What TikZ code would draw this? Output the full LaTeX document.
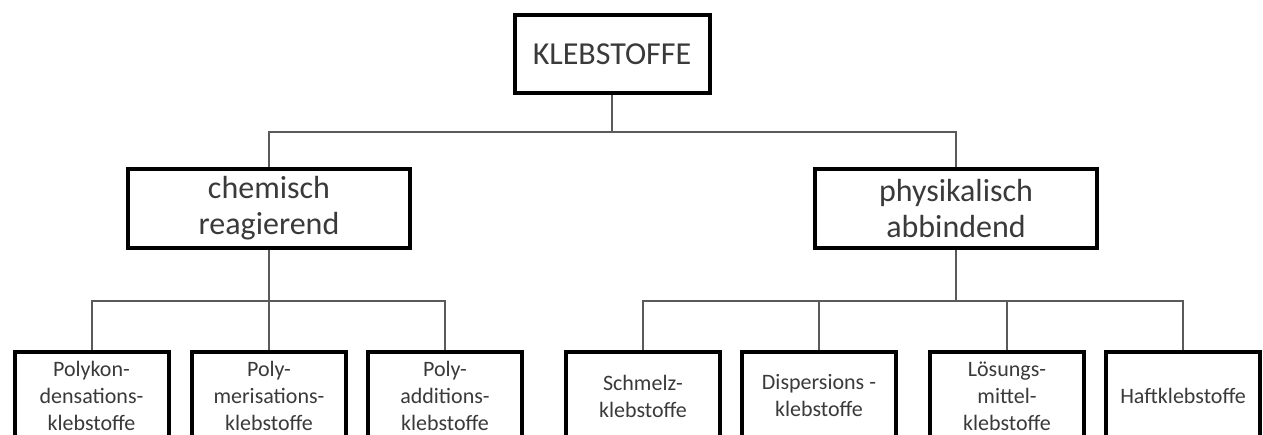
\documentclass[tikz,border=0pt]{standalone}
\usepackage{fontspec}
\setmainfont{Carlito}
\usepackage{xcolor}
\usepackage{tikz}
\usetikzlibrary{positioning, calc}

\definecolor{linkgray}{HTML}{5A5A5A}
\definecolor{textgray}{HTML}{3A3A3A}

\tikzset{
  box/.style={draw=black, line width=4pt, fill=white, text=textgray, align=center, inner sep=0pt},
  rootbox/.style={box, minimum width=195, minimum height=78, font=\fontsize{32}{36}\selectfont},
  groupbox/.style={box, minimum width=282, minimum height=79, font=\fontsize{32}{36}\selectfont},
  leafbox/.style={box, minimum width=154, minimum height=88, font=\fontsize{22}{27}\selectfont},
  link/.style={draw=linkgray, line width=2pt}
}

\begin{document}
\begin{tikzpicture}[x=1pt, y=-1pt]
      \useasboundingbox (0,0) rectangle (1263,434);

      % Root and the two groups
      \node[rootbox] (root) at (612,54) {KLEBSTOFFE};
      \node[groupbox] (chem) at (269,208.5) {chemisch\\reagierend};
      \node[groupbox] (phys) at (956,208.5) {physikalisch\\abbindend};

      % Junction points of the buses
      \coordinate (jRoot) at (612,132);
      \coordinate (jChem) at (269,301);
      \coordinate (jPhys) at (956,301);

      % Leaves
      \foreach \name/\x/\txt in {poko/91.5/{Polykon-\\densations-\\klebstoffe},
                                 pome/269/{Poly-\\merisations-\\klebstoffe},
                                 poad/445/{Poly-\\additions-\\klebstoffe},
                                 schm/643/{Schmelz-\\klebstoffe},
                                 disp/819/{Dispersions -\\klebstoffe},
                                 loes/1007/{Lösungs-\\mittel-\\klebstoffe},
                                 haft/1183/{Haftklebstoffe}} {
        \node[leafbox] (\name) at (\x,396) {\txt};
      }

      % Connectors
      \draw[link] (root) -- (jRoot);
      \draw[link] (chem.north) |- (jRoot) -| (phys.north);

      \draw[link] (chem) -- (jChem);
      \draw[link] (poko.north) |- (jChem) -| (poad.north);
      \draw[link] (jChem) -- (pome.north);

      \draw[link] (phys) -- (jPhys);
      \draw[link] (schm.north) |- (jPhys) -| (haft.north);
      \draw[link] (jPhys) -| (disp.north);
      \draw[link] (jPhys) -| (loes.north);
    \end{tikzpicture}
\end{document}
